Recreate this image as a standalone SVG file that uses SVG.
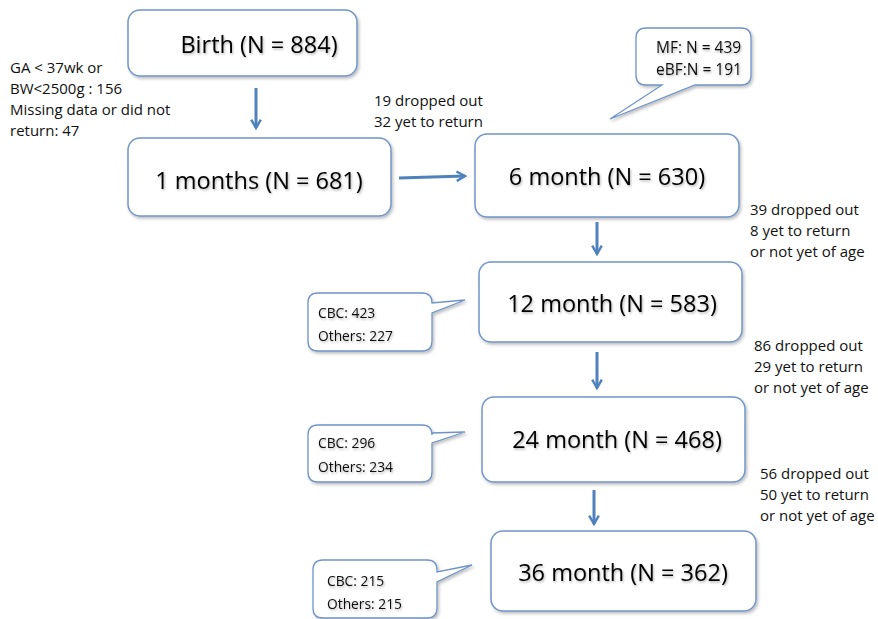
<svg xmlns="http://www.w3.org/2000/svg" width="878" height="619" viewBox="0 0 878 619">
<style>
.box{fill:#fff;stroke:#7095c9;stroke-width:1.5;filter:url(#sh)}
.call{fill:#fff;stroke:#6f94c8;stroke-width:1.3;filter:url(#sh)}
.big{font-family:"Open Sans",sans-serif;font-size:23.5px;fill:#000;text-anchor:middle;filter:url(#tsh)}
.sm{font-family:"Open Sans",sans-serif;font-size:15px;fill:#111}
.ct{font-family:"Open Sans",sans-serif;font-size:13.8px;fill:#111;filter:url(#tsh)}
.arr{stroke:#4f81bd;stroke-width:3;fill:none;marker-end:url(#ah)}
</style>
<defs>
<filter id="sh" x="-10%" y="-10%" width="125%" height="130%">
<feDropShadow dx="1.5" dy="2" stdDeviation="1.5" flood-color="#000" flood-opacity="0.25"/>
</filter>
<filter id="tsh" x="-5%" y="-20%" width="115%" height="150%">
<feDropShadow dx="1" dy="1.5" stdDeviation="1" flood-color="#000" flood-opacity="0.3"/>
</filter>
<marker id="ah" viewBox="0 0 10 10" refX="8" refY="5" markerWidth="4" markerHeight="4" orient="auto" markerUnits="strokeWidth">
<path d="M1,1 L8,5 L1,9" fill="none" stroke="#4f81bd" stroke-width="2"/>
</marker>
</defs>

<g id="connectors">
<line class="arr" x1="256" y1="88" x2="256" y2="128"/>
<line class="arr" x1="399" y1="178" x2="465" y2="176"/>
<line class="arr" x1="597" y1="222" x2="597" y2="254"/>
<line class="arr" x1="597" y1="352" x2="597" y2="388"/>
<line class="arr" x1="594" y1="490" x2="594" y2="524"/>
</g>

<g id="birth">
<rect class="box" x="128" y="10" width="229" height="66" rx="12"/>
<text class="big" x="259" y="53">Birth (N = 884)</text>
</g>
<g id="m1">
<rect class="box" x="128" y="138" width="263" height="78" rx="12"/>
<text class="big" x="259" y="189">1 months (N = 681)</text>
</g>
<g id="m6">
<rect class="box" x="475" y="134" width="264" height="83" rx="12"/>
<text class="big" x="607" y="185">6 month (N = 630)</text>
</g>
<g id="m12">
<rect class="box" x="479" y="262" width="263" height="80" rx="12"/>
<text class="big" x="612" y="312">12 month (N = 583)</text>
</g>
<g id="m24">
<rect class="box" x="482" y="397" width="263" height="85" rx="12"/>
<text class="big" x="617" y="448">24 month (N = 468)</text>
</g>
<g id="m36">
<rect class="box" x="491" y="531" width="265" height="80" rx="12"/>
<text class="big" x="623" y="581">36 month (N = 362)</text>
</g>

<g id="callout-mf">
<path class="call" d="M646,28 H741 Q751,28 751,38 V75 Q751,85 741,85 H695 L610,119 L662,85 H646 Q636,85 636,75 V38 Q636,28 646,28 Z"/>
<text class="ct" x="656" y="53" style="font-size:15.5px">MF: N = 439</text>
<text class="ct" x="656" y="75" style="font-size:15.5px">eBF:N = 191</text>
</g>
<g id="callout-12">
<path class="call" d="M318,293 H422 Q432,293 432,303 V303 L465,300 L432,313 V341 Q432,351 422,351 H318 Q308,351 308,341 V303 Q308,293 318,293 Z"/>
<text class="ct" x="318" y="318">CBC: 423</text>
<text class="ct" x="318" y="341">Others: 227</text>
</g>
<g id="callout-24">
<path class="call" d="M318,425 H422 Q432,425 432,435 V433 L465,432 L432,443 V472 Q432,482 422,482 H318 Q308,482 308,472 V435 Q308,425 318,425 Z"/>
<text class="ct" x="318" y="448">CBC: 296</text>
<text class="ct" x="318" y="472">Others: 234</text>
</g>
<g id="callout-36">
<path class="call" d="M323,560 H427 Q437,560 437,570 V572 L472,565 L437,582 V608 Q437,618 427,618 H323 Q313,618 313,608 V570 Q313,560 323,560 Z"/>
<text class="ct" x="327" y="586">CBC: 215</text>
<text class="ct" x="327" y="609">Others: 215</text>
</g>

<g id="notes">
<text class="sm" x="10" y="73">GA &lt; 37wk or</text>
<text class="sm" x="10" y="94">BW&lt;2500g : 156</text>
<text class="sm" x="10" y="115">Missing data or did not</text>
<text class="sm" x="10" y="136">return: 47</text>
<text class="sm" x="374" y="106">19 dropped out</text>
<text class="sm" x="374" y="127">32 yet to return</text>
<text class="sm" x="750" y="215">39 dropped out</text>
<text class="sm" x="750" y="236">8 yet to return</text>
<text class="sm" x="750" y="257">or not yet of age</text>
<text class="sm" x="754" y="351">86 dropped out</text>
<text class="sm" x="754" y="372">29 yet to return</text>
<text class="sm" x="754" y="393">or not yet of age</text>
<text class="sm" x="760" y="479">56 dropped out</text>
<text class="sm" x="760" y="500">50 yet to return</text>
<text class="sm" x="760" y="521">or not yet of age</text>
</g>
</svg>
